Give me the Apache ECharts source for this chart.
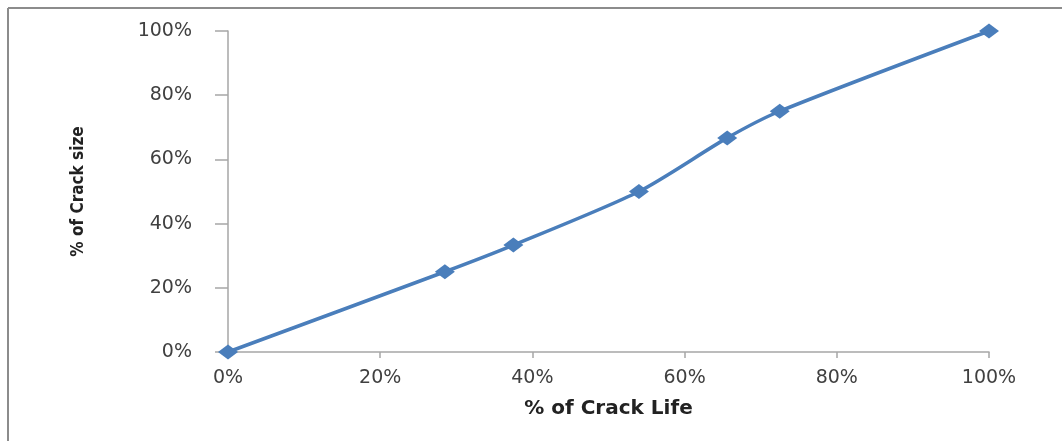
<!DOCTYPE html>
<html>
<head>
<meta charset="utf-8">
<script src="https://cdn.jsdelivr.net/npm/echarts@6/dist/echarts.min.js"></script>
<style>
html, body { margin: 0; padding: 0; background: #fff; }
#chart { width: 1062px; height: 441px; }
</style>
</head>
<body>
<div id="chart"></div>
<script>
// crack life (%) vs crack size (%)
var crackLife = [0, 28.5, 37.5, 54, 65.6, 72.5, 100];
var crackSize = [0, 25, 33.3, 50, 66.7, 75, 100];
var axisTicks = [0, 20, 40, 60, 80, 100];

var points = crackLife.map(function (x, i) { return [x, crackSize[i]]; });

var chart = echarts.init(document.getElementById('chart'));
var axisGray = '#a6a6a6';
var labelFont = { color: '#404040', fontFamily: 'DejaVu Sans', fontSize: 19 };

var option = {
    animation: false,
    backgroundColor: '#fff',
    grid: { left: 228, right: 73, top: 31, bottom: 89 },
    graphic: [
        { type: 'line', shape: { x1: 8, y1: 8, x2: 1062, y2: 8 }, style: { stroke: '#8c8c8c', lineWidth: 2 } },
        { type: 'line', shape: { x1: 8, y1: 8, x2: 8, y2: 441 }, style: { stroke: '#8c8c8c', lineWidth: 2 } }
    ],
    xAxis: {
        type: 'value',
        min: axisTicks[0],
        max: axisTicks[axisTicks.length - 1],
        interval: 20,
        name: '% of Crack Life',
        nameLocation: 'middle',
        nameGap: 47,
        nameTextStyle: { color: '#222', fontFamily: 'DejaVu Sans', fontWeight: 'bold', fontSize: 20 },
        axisLine: { lineStyle: { color: axisGray, width: 1.5 } },
        axisTick: { show: true, length: 6, lineStyle: { color: axisGray, width: 1.5 } },
        axisLabel: Object.assign({ formatter: '{value}%', margin: 17 }, labelFont),
        splitLine: { show: false }
    },
    yAxis: {
        type: 'value',
        min: 0,
        max: 100,
        interval: 20,
        name: '% of Crack size',
        nameLocation: 'middle',
        nameGap: 141,
        nameRotate: 90,
        nameTextStyle: { color: '#222', fontFamily: 'DejaVu Sans Condensed', fontWeight: 'bold', fontSize: 17 },
        axisLine: { show: true, lineStyle: { color: axisGray, width: 1.5 } },
        axisTick: { show: true, length: 13, lineStyle: { color: axisGray, width: 1.5 } },
        axisLabel: Object.assign({ formatter: '{value}%', margin: 36 }, labelFont),
        splitLine: { show: false }
    },
    series: [{
        type: 'line',
        data: points,
        smooth: 0.25,
        symbol: 'diamond',
        symbolSize: [20, 15],
        lineStyle: { color: '#4a7ebb', width: 3.5 },
        itemStyle: { color: '#4a7ebb' }
    }]
};

chart.setOption(option);
</script>
</body>
</html>
